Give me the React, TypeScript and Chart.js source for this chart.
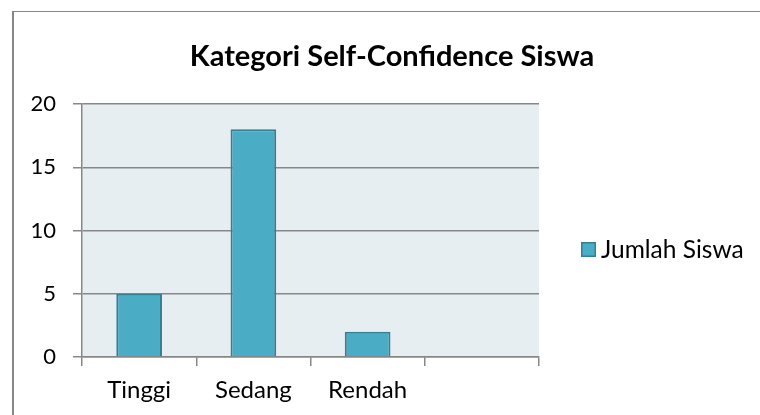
import React, { useEffect, useRef } from 'react';
import { Chart, registerables } from 'chart.js';

Chart.register(...registerables);

const chartTitle = 'Kategori Self-Confidence Siswa';
const categories = ['Tinggi', 'Sedang', 'Rendah', ''];
const seriesName = 'Jumlah Siswa';
const seriesValues = [5, 18, 2, null];
const yMin = 0;
const yMax = 20;
const yStep = 5;

const FONT = 'Lato, "Open Sans", sans-serif';
const BAR_FILL = '#4BACC6';
const BAR_EDGE = '#357F93';
const GRID = '#878787';
const PLOT_BG = '#E7EEF2';

const decor = {
  id: 'decor',
  beforeDraw(chart: any) {
    const { ctx, chartArea } = chart;
    ctx.save();
    ctx.fillStyle = PLOT_BG;
    ctx.fillRect(chartArea.left, chartArea.top, chartArea.right - chartArea.left, chartArea.bottom - chartArea.top);
    ctx.restore();
  },
  afterDraw(chart: any) {
    const { ctx } = chart;
    ctx.save();
    // title
    ctx.fillStyle = '#000';
    ctx.font = `bold 29px ${FONT}`;
    ctx.textAlign = 'center';
    ctx.textBaseline = 'alphabetic';
    ctx.fillText(chartTitle, 392, 66);
    // legend
    const ds = chart.data.datasets[0];
    ctx.fillStyle = ds.backgroundColor;
    ctx.fillRect(581, 242, 15, 15);
    ctx.strokeStyle = ds.borderColor;
    ctx.lineWidth = 1.5;
    ctx.strokeRect(581.75, 242.75, 13.5, 13.5);
    ctx.fillStyle = '#000';
    ctx.font = `24.5px ${FONT}`;
    ctx.textAlign = 'left';
    ctx.textBaseline = 'middle';
    ctx.fillText(ds.label, 601, 250);
    ctx.restore();
  },
};

export default function App() {
  const ref = useRef<HTMLCanvasElement>(null);
  useEffect(() => {
    if (!ref.current) return;
    const chart = new Chart(ref.current, {
      type: 'bar',
      data: {
        labels: categories,
        datasets: [
          {
            label: seriesName,
            data: seriesValues as any,
            backgroundColor: BAR_FILL,
            borderColor: BAR_EDGE,
            borderWidth: 2,
            borderSkipped: 'bottom',
            categoryPercentage: 1,
            barPercentage: 0.4,
          },
        ],
      },
      options: {
        responsive: false,
        animation: false,
        devicePixelRatio: 1,
        layout: { padding: { left: 0, top: 104, right: 221, bottom: 0 } },
        plugins: {
          legend: { display: false },
          title: { display: false },
          tooltip: { enabled: false },
        },
        scales: {
          x: {
            type: 'category',
            offset: true,
            grid: {
              offset: true,
              drawOnChartArea: false,
              drawTicks: true,
              tickLength: 9,
              color: GRID,
              lineWidth: 1.5,
            },
            border: { display: true, color: GRID, width: 1.5 },
            ticks: { color: '#000', font: { family: FONT, size: 24 }, padding: 10, maxRotation: 0 },
            afterFit(scale: any) {
              scale.height = 58;
            },
          },
          y: {
            min: yMin,
            max: yMax,
            ticks: { stepSize: yStep, color: '#000', font: { family: FONT, size: 22 }, padding: 17 },
            grid: { color: GRID, lineWidth: 1.5, tickLength: 9, drawTicks: true },
            border: { display: true, color: GRID, width: 1.5 },
            afterFit(scale: any) {
              scale.width = 82;
            },
          },
        },
      },
      plugins: [decor],
    });
    return () => chart.destroy();
  }, []);

  return (
    <div style={{ position: 'absolute', left: 0, top: 0, width: 760, height: 415, overflow: 'hidden', background: '#fff' }}>
      <div
        style={{
          position: 'absolute',
          left: 12,
          top: 11,
          width: 800,
          height: 500,
          borderLeft: '2px solid #878787',
          borderTop: '1.5px solid #878787',
        }}
      />
      <canvas ref={ref} width={760} height={415} style={{ position: 'absolute', left: 0, top: 0, width: 760, height: 415 }} />
    </div>
  );
}
